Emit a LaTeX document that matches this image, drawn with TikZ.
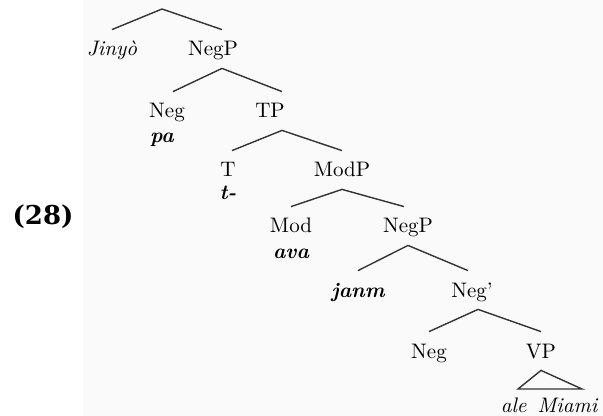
\documentclass[tikz,border=0pt]{standalone}
\usepackage{fontspec}
\newfontfamily\exnumfont{DejaVu Serif}
\usetikzlibrary{positioning}

\begin{document}
\begin{tikzpicture}[x=0.5pt, y=-0.5pt,
    cat/.style={anchor=base, inner xsep=1pt, inner ysep=6pt, text height=7pt,
      text depth=0pt, font=\fontsize{10.5}{12}\selectfont},
    word/.style={cat, font=\fontsize{10.5}{12}\selectfont\itshape},
    lex/.style={cat, font=\fontsize{10.5}{12}\selectfont\bfseries\itshape},
    branch/.style={line width=0.7pt, draw=black!80}]
  \useasboundingbox (0,0) rectangle (603,416);
  \fill[black!2] (83,0) rectangle (603,416);

  % example number
  \node[font=\exnumfont\bfseries\fontsize{13}{15}\selectfont, anchor=base] (exnum) at (43,225) {(28)};

  % tree nodes
  \coordinate (top) at (162,9);
  \node[word] (jinyo) at (112,56) {Jinyò};
  \node[cat] (negp) at (213,56) {NegP};
  \node[cat] (neg) at (167,118) {Neg};
  \node[lex] (pa) at (162,143) {pa};
  \node[cat] (tp) at (270,118) {TP};
  \node[cat] (t) at (228,177) {T};
  \node[lex] (tlex) at (228,200) {t-};
  \node[cat] (modp) at (342,177) {ModP};
  \node[cat] (mod) at (291,233) {Mod};
  \node[lex] (ava) at (291,258) {ava};
  \node[cat] (negpl) at (408,233) {NegP};
  \node[lex] (janm) at (358,297) {janm};
  \node[cat] (negbar) at (472,297) {Neg’};
  \node[cat] (negh) at (429,358) {Neg};
  \node[cat] (vp) at (541,358) {VP};
  \node[word] (aleMiami) at (549,412) {ale\, Miami};
  \coordinate (vpl) at (518,389);
  \coordinate (vpr) at (582,389);

  % branches
  \draw[branch] (top) -- (jinyo.north);
  \draw[branch] (top) -- ([xshift=4.5pt]negp.north);
  \draw[branch] ([xshift=4.5pt]negp.south) -- ([xshift=3pt]neg.north);
  \draw[branch] ([xshift=4.5pt]negp.south) -- ([xshift=6pt]tp.north);
  \draw[branch] ([xshift=6pt]tp.south) -- ([xshift=2pt]t.north);
  \draw[branch] ([xshift=6pt]tp.south) -- (modp.north);
  \draw[branch] (modp.south) -- (mod.north);
  \draw[branch] (modp.south) -- ([xshift=-2pt]negpl.north);
  \draw[branch] (negpl.south) -- (janm.north);
  \draw[branch] (negpl.south) -- ([xshift=-2pt]negbar.north);
  \draw[branch] ([xshift=3pt]negbar.south) -- (negh.north);
  \draw[branch] ([xshift=3pt]negbar.south) -- (vp.north);
  \draw[branch] (vp.south) -- (vpl) -- (vpr) -- cycle;
\end{tikzpicture}
\end{document}
